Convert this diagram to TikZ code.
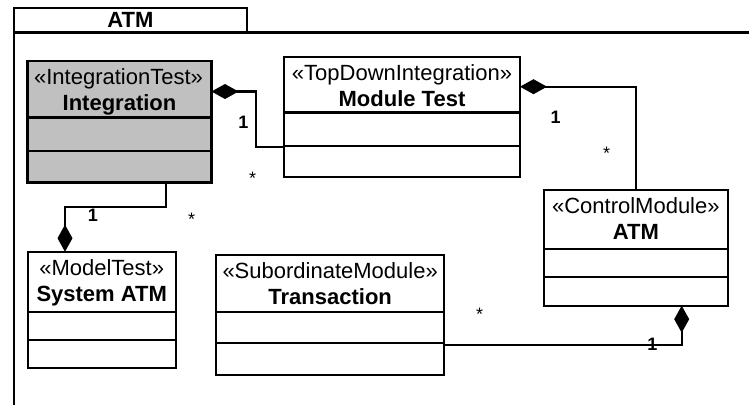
\documentclass[tikz,border=0pt]{standalone}
\usepackage{fontspec}
\setmainfont{Liberation Sans}
\usetikzlibrary{arrows.meta}
\definecolor{clsgray}{HTML}{C0C0C0}
\begin{document}
\begin{tikzpicture}[x=1pt,y=-1pt,
  lw/.style={line width=2.2pt},
  clsbox/.style={draw, lw, inner sep=0pt, outer sep=0pt, anchor=north west, fill=white},
  ster/.style={anchor=base, inner sep=0pt, font=\fontsize{22}{26}\selectfont},
  cname/.style={anchor=base, inner sep=0pt, font=\fontsize{22}{26}\selectfont\bfseries},
  mult/.style={anchor=base, inner sep=0pt, font=\fontsize{18}{20}\selectfont\bfseries},
  many/.style={anchor=base, inner sep=0pt, font=\fontsize{18}{20}\selectfont},
  comp/.style={lw, line join=miter, {Diamond[length=27pt 0 0,width=15pt 0 0,fill=black]}-},
]
\path[use as bounding box, fill=white] (0,0) rectangle (749,405);

% package frame
\node[draw, lw, inner sep=0pt, outer sep=0pt, minimum width=232.7pt, minimum height=24.5pt,
      font=\fontsize{22}{26}\selectfont\bfseries] (tab) at (130.35,20.25) {ATM};
\draw[lw] (14,405) -- (tab.south west) -- (749,32.5);

% Integration
\node[clsbox, fill=clsgray, minimum width=184pt, minimum height=121.5pt] (integ) at (27.5,61) {};
\draw[lw] (integ.west |- 0,117.5) -- (integ.east |- 0,117.5);
\draw[lw] (integ.west |- 0,151) -- (integ.east |- 0,151);
\node[ster] (integS) at (118.5,84.5) {«IntegrationTest»};
\node[cname] (integN) at (119.5,110.5) {Integration};

% Module Test
\node[clsbox, minimum width=236pt, minimum height=119.7pt] (modt) at (284,57.3) {};
\draw[lw] (modt.west |- 0,112.5) -- (modt.east |- 0,112.5);
\draw[lw] (modt.west |- 0,146) -- (modt.east |- 0,146);
\node[ster] (modtS) at (402,80.8) {«TopDownIntegration»};
\node[cname] (modtN) at (402,106.8) {Module Test};

% Control ATM
\node[clsbox, minimum width=183.7pt, minimum height=115.7pt] (ctrl) at (544,190) {};
\draw[lw] (ctrl.west |- 0,249) -- (ctrl.east |- 0,249);
\draw[lw] (ctrl.west |- 0,277.3) -- (ctrl.east |- 0,277.3);
\node[ster] (ctrlS) at (635.85,213.5) {«ControlModule»};
\node[cname] (ctrlN) at (635.85,239.5) {ATM};

% System ATM
\node[clsbox, minimum width=148pt, minimum height=116pt] (sys) at (27.7,251.7) {};
\draw[lw] (sys.west |- 0,311.7) -- (sys.east |- 0,311.7);
\draw[lw] (sys.west |- 0,340) -- (sys.east |- 0,340);
\node[ster] (sysS) at (101.7,275.2) {«ModelTest»};
\node[cname] (sysN) at (101.7,301.2) {System ATM};

% Transaction
\node[clsbox, minimum width=228.3pt, minimum height=120pt] (trans) at (216,255) {};
\draw[lw] (trans.west |- 0,311.7) -- (trans.east |- 0,311.7);
\draw[lw] (trans.west |- 0,343.3) -- (trans.east |- 0,343.3);
\node[ster] (transS) at (330.15,278.5) {«SubordinateModule»};
\node[cname] (transN) at (330.15,304.5) {Transaction};

% connectors
\draw[comp] (integ.east |- 0,91.5) -- (255.7,91.5) |- (modt.west |- 0,146.7);
\draw[comp] (modt.east |- 0,86.7) -| (ctrl.north -| 635.7,0);
\draw[comp] (sys.north -| 65,0) -- (65,207.3) -| (integ.south -| 165.7,0);
\draw[comp] (ctrl.south -| 681.7,0) |- (trans.east |- 0,345);

% multiplicities
\node[mult] (m1) at (243.3,128.3) {1};
\node[many] (s1) at (252.5,184.5) {*};
\node[mult] (m2) at (555.5,123.3) {1};
\node[many] (s2) at (606.7,159.5) {*};
\node[mult] (m3) at (93,221.7) {1};
\node[many] (s3) at (191.7,225.3) {*};
\node[mult] (m4) at (652.3,350) {1};
\node[many] (s4) at (479.7,320.3) {*};
\end{tikzpicture}
\end{document}
